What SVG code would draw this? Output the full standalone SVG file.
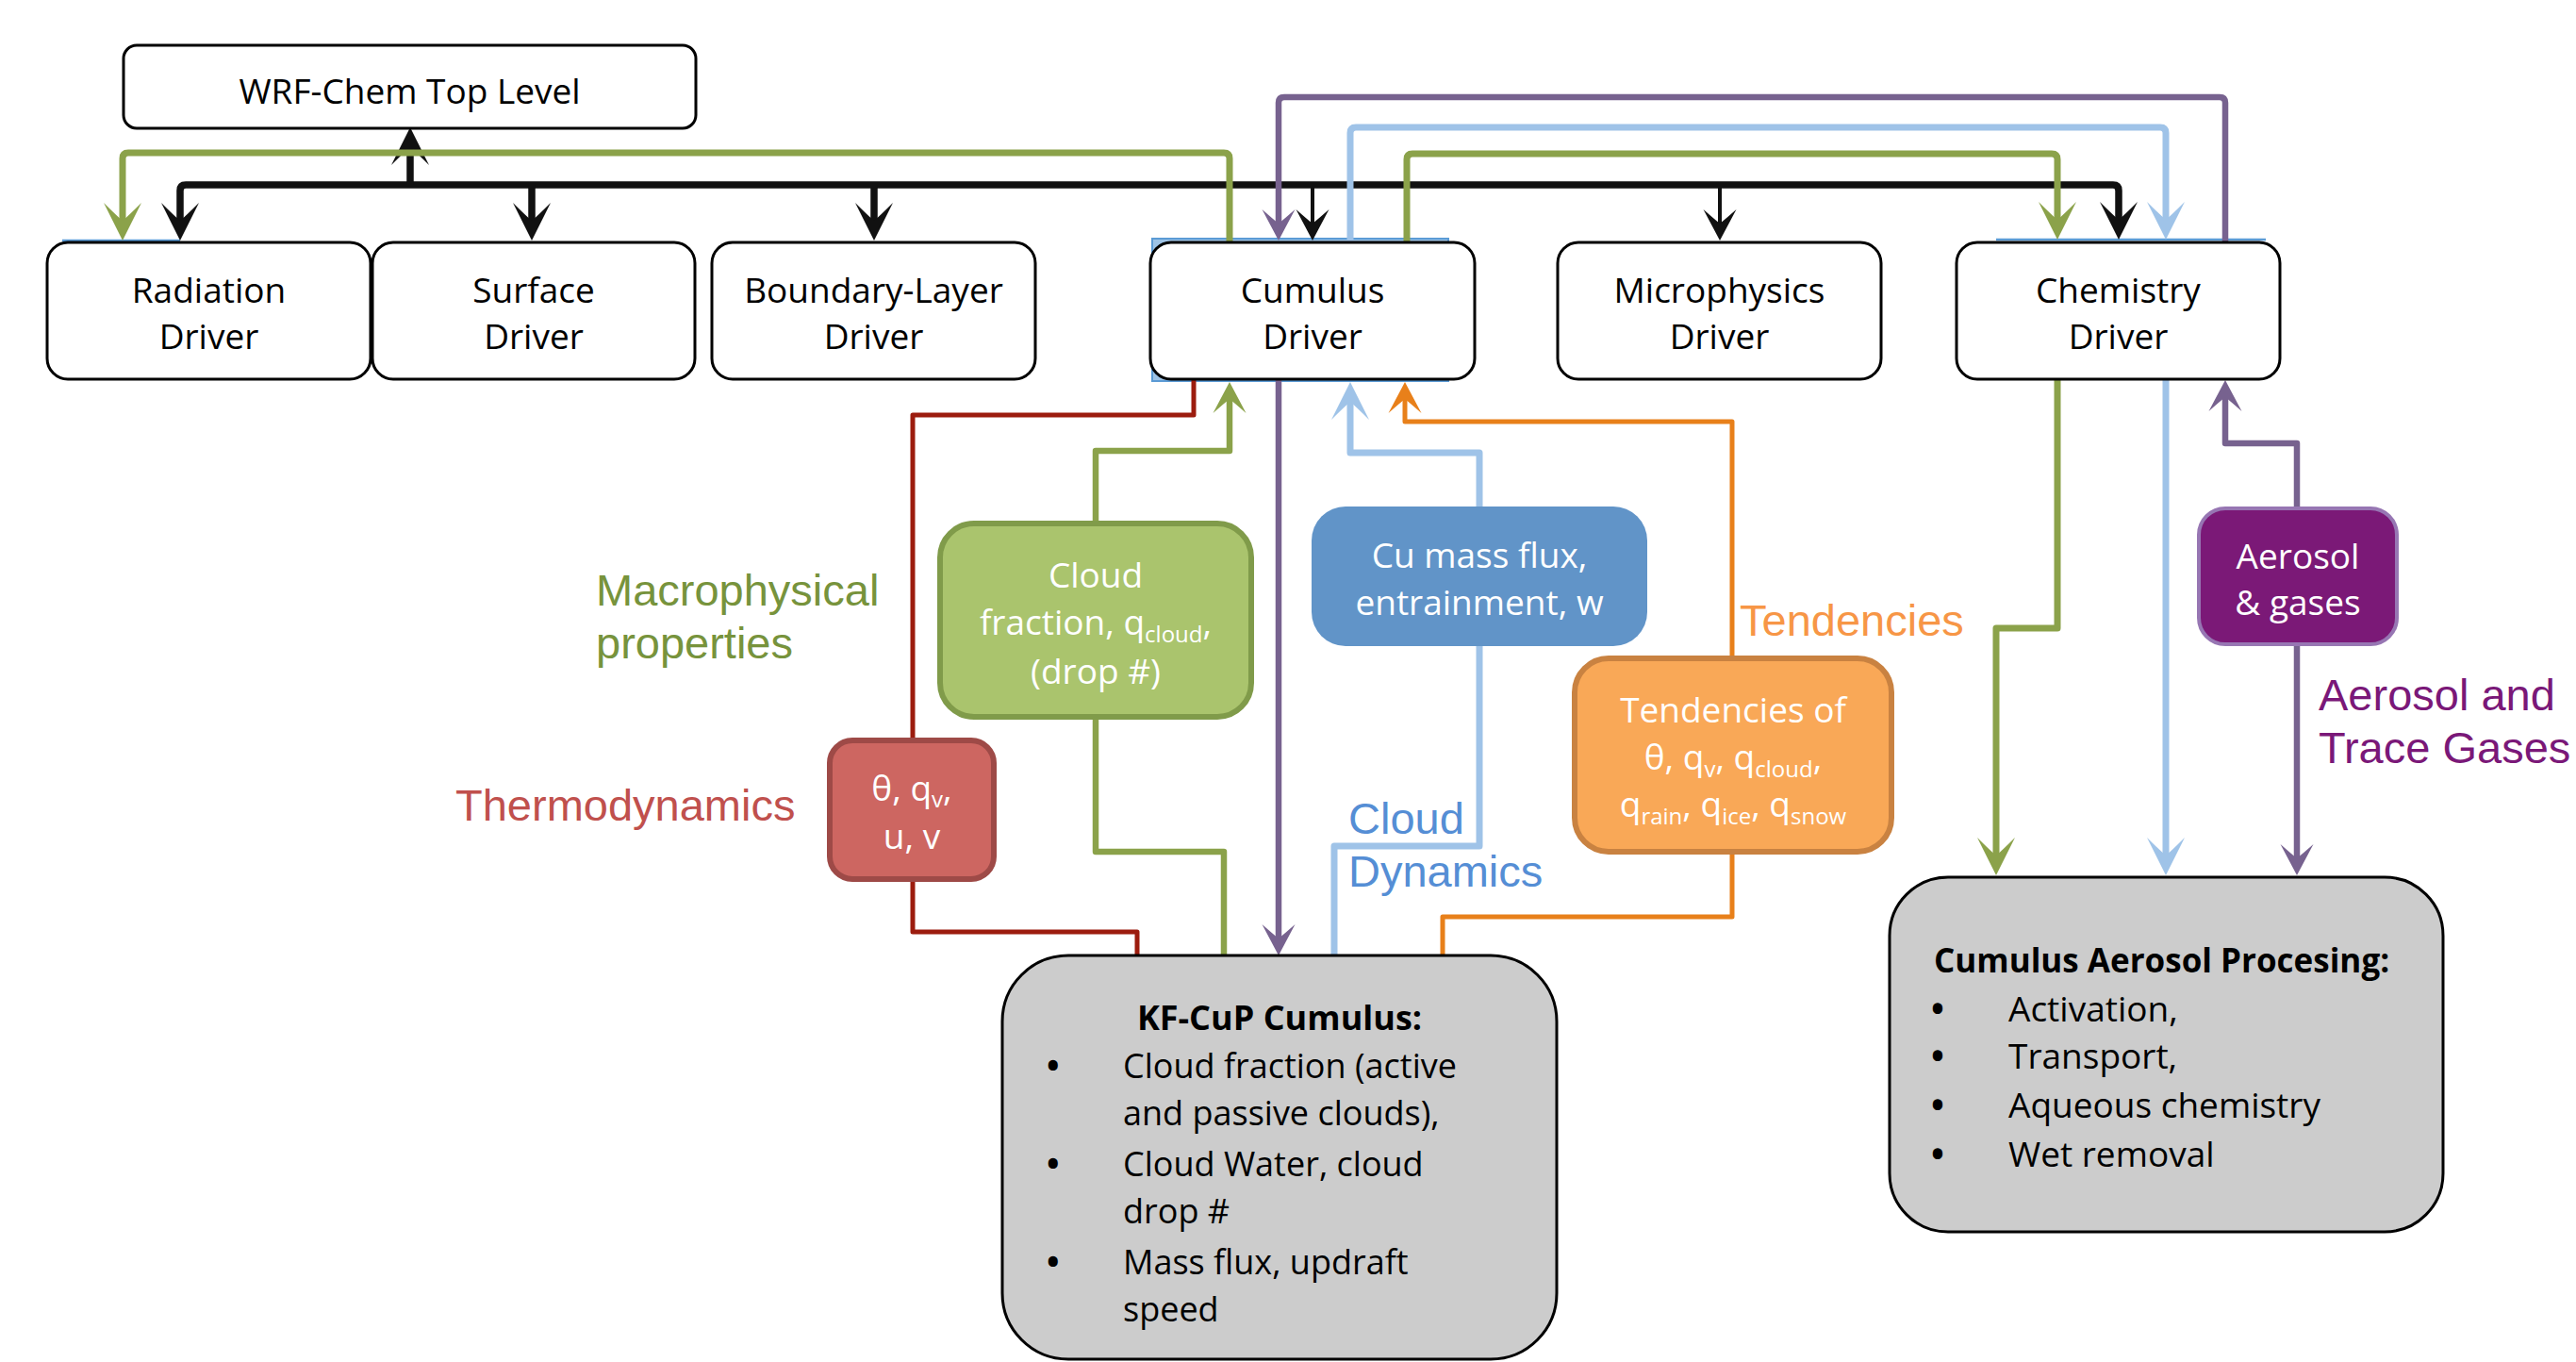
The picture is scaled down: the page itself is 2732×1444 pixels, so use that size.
<svg xmlns="http://www.w3.org/2000/svg" width="2732" height="1444" viewBox="0 0 2732 1444">
<style>
.box{fill:#ffffff;stroke:#000000;stroke-width:3}
.gray{fill:#cccccc;stroke:#000000;stroke-width:3}
.t{font-family:"Open Sans","Liberation Sans",sans-serif;font-size:37px;fill:#000000;text-anchor:middle}
.w{font-family:"Open Sans","Liberation Sans",sans-serif;font-size:37px;fill:#ffffff;text-anchor:middle}
.b{font-family:"Open Sans","Liberation Sans",sans-serif;font-weight:bold;fill:#000000}
.body{font-family:"Open Sans","Liberation Sans",sans-serif;fill:#000000}
.bul{font-weight:bold}
.lab{font-family:"Liberation Sans",Arial,sans-serif;font-size:47px}
.c{fill:none;stroke-linejoin:round}
.k{stroke:#111111;stroke-width:7.5}
.kt{stroke:#111111;stroke-width:4}
.g{stroke:#8ba24a;stroke-width:7}
.lb{stroke:#9fc3e8;stroke-width:7}
.p{stroke:#77628f;stroke-width:6.5}
.r{stroke:#9c1c0e;stroke-width:5}
.o{stroke:#e8801a;stroke-width:5}
</style>
<defs>
<marker id="ak" markerUnits="userSpaceOnUse" markerWidth="60" markerHeight="60" viewBox="-30 -30 60 60" refX="0" refY="0" orient="auto-start-reverse" overflow="visible"><path d="M20,0 L-20,-20 Q-6,-6 -1,0 Q-6,6 -20,20 Z" fill="#111111"/></marker>
<marker id="aks" markerUnits="userSpaceOnUse" markerWidth="60" markerHeight="60" viewBox="-30 -30 60 60" refX="0" refY="0" orient="auto" overflow="visible"><path d="M17,0 L-16,-17.5 Q-5,-5 -1,0 Q-5,5 -16,17.5 Z" fill="#111111"/></marker>
<marker id="ag" markerUnits="userSpaceOnUse" markerWidth="60" markerHeight="60" viewBox="-30 -30 60 60" refX="0" refY="0" orient="auto" overflow="visible"><path d="M20,0 L-20,-20 Q-6,-6 -1,0 Q-6,6 -20,20 Z" fill="#8ba24a"/></marker>
<marker id="ags" markerUnits="userSpaceOnUse" markerWidth="60" markerHeight="60" viewBox="-30 -30 60 60" refX="0" refY="0" orient="auto" overflow="visible"><path d="M17,0 L-16,-17.5 Q-5,-5 -1,0 Q-5,5 -16,17.5 Z" fill="#8ba24a"/></marker>
<marker id="ab" markerUnits="userSpaceOnUse" markerWidth="60" markerHeight="60" viewBox="-30 -30 60 60" refX="0" refY="0" orient="auto" overflow="visible"><path d="M20,0 L-20,-20 Q-6,-6 -1,0 Q-6,6 -20,20 Z" fill="#9fc3e8"/></marker>
<marker id="aps" markerUnits="userSpaceOnUse" markerWidth="60" markerHeight="60" viewBox="-30 -30 60 60" refX="0" refY="0" orient="auto" overflow="visible"><path d="M17,0 L-16,-17.5 Q-5,-5 -1,0 Q-5,5 -16,17.5 Z" fill="#77628f"/></marker>
<marker id="aos" markerUnits="userSpaceOnUse" markerWidth="60" markerHeight="60" viewBox="-30 -30 60 60" refX="0" refY="0" orient="auto" overflow="visible"><path d="M17,0 L-16,-17.5 Q-5,-5 -1,0 Q-5,5 -16,17.5 Z" fill="#e8801a"/></marker>
</defs>
<rect width="2732" height="1444" fill="#ffffff"/>

<g id="artifacts">
<rect x="1222" y="253" width="314" height="151" fill="#9dc3e6" stroke="#5b9bd5" stroke-width="2"/>
<line x1="66" y1="255" x2="191" y2="255" stroke="#5b9bd5" stroke-width="2.5"/>
<line x1="2117" y1="254" x2="2403" y2="254" stroke="#5b9bd5" stroke-width="2.5"/>
</g>

<g id="connectors">
<path class="c k" d="M191,235 V202 Q191,196 197,196 H2241 Q2247,196 2247,202 V234" marker-start="url(#ak)" marker-end="url(#ak)"/>
<path class="c k" d="M564,196 V235" marker-end="url(#ak)"/>
<path class="c k" d="M927,196 V235" marker-end="url(#ak)"/>
<path class="c k" d="M435,196 V155" marker-end="url(#ak)"/>
<path class="c kt" d="M1392,196 V238" marker-end="url(#aks)"/>
<path class="c kt" d="M1824,196 V238" marker-end="url(#aks)"/>

<path class="c g" d="M1304,257 V168 Q1304,162 1298,162 H136 Q130,162 130,168 V235" marker-end="url(#ag)"/>
<path class="c g" d="M1492,257 V169 Q1492,163 1498,163 H2176 Q2182,163 2182,169 V234" marker-end="url(#ag)"/>
<path class="c g" d="M2182,402 V666 H2117 V908" marker-end="url(#ag)"/>
<path class="c g" style="stroke-width:6.5" d="M1162,554 V478 H1304 V422" marker-end="url(#ags)"/>
<path class="c g" style="stroke-width:6.5" d="M1162,760 V903 H1298 V1013"/>

<path class="c lb" d="M1432,257 V141 Q1432,135 1438,135 H2291 Q2297,135 2297,141 V234" marker-end="url(#ab)"/>
<path class="c lb" d="M2297,402 V908" marker-end="url(#ab)"/>
<path class="c lb" d="M1569,538 V480 H1432 V425" marker-end="url(#ab)"/>
<path class="c lb" d="M1569,685 V897 H1415 V1013"/>

<path class="c p" d="M2360,257 V109 Q2360,103 2354,103 H1362 Q1356,103 1356,109 V238" marker-end="url(#aps)"/>
<path class="c p" d="M1356,402 V996" marker-end="url(#aps)"/>
<path class="c p" d="M2436,539 V470 H2360 V420" marker-end="url(#aps)"/>
<path class="c p" d="M2436,683 V911" marker-end="url(#aps)"/>

<path class="c r" d="M1266,402 V440 H968 V785"/>
<path class="c r" d="M968,932 V988 H1206 V1013"/>

<path class="c o" d="M1837,698 V447 H1490 V422" marker-end="url(#aos)"/>
<path class="c o" d="M1837,903 V972 H1530 V1013"/>
</g>

<g id="wrf">
<rect class="box" x="131" y="48" width="607" height="88" rx="14"/>
<text class="t" x="434.5" y="110">WRF-Chem Top Level</text>
</g>
<g id="radiation">
<rect class="box" x="50" y="257" width="343" height="145" rx="22"/>
<text class="t" x="221.5" y="321">Radiation</text>
<text class="t" x="221.5" y="370">Driver</text>
</g>
<g id="surface">
<rect class="box" x="395" y="257" width="342" height="145" rx="22"/>
<text class="t" x="566" y="321">Surface</text>
<text class="t" x="566" y="370">Driver</text>
</g>
<g id="boundary">
<rect class="box" x="755" y="257" width="343" height="145" rx="22"/>
<text class="t" x="926.5" y="321">Boundary-Layer</text>
<text class="t" x="926.5" y="370">Driver</text>
</g>
<g id="cumulus">
<rect class="box" x="1220" y="257" width="344" height="145" rx="22"/>
<text class="t" x="1392" y="321">Cumulus</text>
<text class="t" x="1392" y="370">Driver</text>
</g>
<g id="microphysics">
<rect class="box" x="1652" y="257" width="343" height="145" rx="22"/>
<text class="t" x="1823.5" y="321">Microphysics</text>
<text class="t" x="1823.5" y="370">Driver</text>
</g>
<g id="chemistry">
<rect class="box" x="2075" y="257" width="343" height="145" rx="22"/>
<text class="t" x="2246.5" y="321">Chemistry</text>
<text class="t" x="2246.5" y="370">Driver</text>
</g>

<g id="thermo">
<rect x="880" y="785" width="174" height="147" rx="24" fill="#cd6661" stroke="#9e4a47" stroke-width="6"/>
<text class="w" x="967" y="849">θ, q<tspan font-size="24" dy="7">v</tspan><tspan dy="-7">,</tspan></text>
<text class="w" x="967" y="900">u, v</text>
</g>
<g id="cloudfrac">
<rect x="997" y="555" width="330" height="205" rx="36" fill="#aac46d" stroke="#809b4a" stroke-width="6"/>
<text class="w" x="1162" y="623">Cloud</text>
<text class="w" x="1162" y="673">fraction, q<tspan font-size="24" dy="8">cloud</tspan><tspan dy="-8">,</tspan></text>
<text class="w" x="1162" y="725">(drop #)</text>
</g>
<g id="massflux">
<rect x="1391" y="537" width="356" height="148" rx="36" fill="#6194c8"/>
<text class="w" x="1569" y="602">Cu mass flux,</text>
<text class="w" x="1569" y="652">entrainment, w</text>
</g>
<g id="tendbox">
<rect x="1670" y="698" width="336" height="205" rx="36" fill="#f9a857" stroke="#c98241" stroke-width="6"/>
<text class="w" x="1838" y="766">Tendencies of</text>
<text class="w" x="1838" y="816">θ, q<tspan font-size="24" dy="8">v</tspan><tspan dy="-8">, q</tspan><tspan font-size="24" dy="8">cloud</tspan><tspan dy="-8">,</tspan></text>
<text class="w" x="1838" y="866">q<tspan font-size="24" dy="8">rain</tspan><tspan dy="-8">, q</tspan><tspan font-size="24" dy="8">ice</tspan><tspan dy="-8">, q</tspan><tspan font-size="24" dy="8">snow</tspan></text>
</g>
<g id="aerosolbox">
<rect x="2332" y="539" width="210" height="144" rx="28" fill="#7b1977" stroke="#9776b3" stroke-width="4"/>
<text class="w" x="2437" y="603">Aerosol</text>
<text class="w" x="2437" y="652">&amp; gases</text>
</g>
<g id="kfcup">
<rect class="gray" x="1063" y="1013" width="588" height="428" rx="70"/>
<text class="b" x="1357" y="1092" text-anchor="middle" font-size="36">KF-CuP Cumulus:</text>
<g class="body" font-size="36">
<text class="bul" x="1110" y="1143">•</text><text x="1191" y="1143">Cloud fraction (active</text>
<text x="1191" y="1193">and passive clouds),</text>
<text class="bul" x="1110" y="1247">•</text><text x="1191" y="1247">Cloud Water, cloud</text>
<text x="1191" y="1297">drop #</text>
<text class="bul" x="1110" y="1351">•</text><text x="1191" y="1351">Mass flux, updraft</text>
<text x="1191" y="1401">speed</text>
</g>
</g>
<g id="aerosolproc">
<rect class="gray" x="2004" y="930" width="587" height="376" rx="62"/>
<text class="b" x="2051" y="1031" font-size="35">Cumulus Aerosol Procesing:</text>
<g class="body" font-size="37">
<text class="bul" x="2048" y="1083">•</text><text x="2130" y="1083">Activation,</text>
<text class="bul" x="2048" y="1133">•</text><text x="2130" y="1133">Transport,</text>
<text class="bul" x="2048" y="1185">•</text><text x="2130" y="1185">Aqueous chemistry</text>
<text class="bul" x="2048" y="1237">•</text><text x="2130" y="1237">Wet removal</text>
</g>
</g>

<g id="labels">
<text class="lab" x="632" y="642" fill="#77933c">Macrophysical</text>
<text class="lab" x="632" y="698" fill="#77933c">properties</text>
<text class="lab" x="483" y="870" fill="#c0504d">Thermodynamics</text>
<text class="lab" x="1430" y="884" fill="#558ed5">Cloud</text>
<text class="lab" x="1430" y="940" fill="#558ed5">Dynamics</text>
<text class="lab" x="1845" y="674" fill="#f79646">Tendencies</text>
<text class="lab" x="2459" y="753" fill="#7a1878">Aerosol and</text>
<text class="lab" x="2459" y="809" fill="#7a1878">Trace Gases</text>
</g>
</svg>
